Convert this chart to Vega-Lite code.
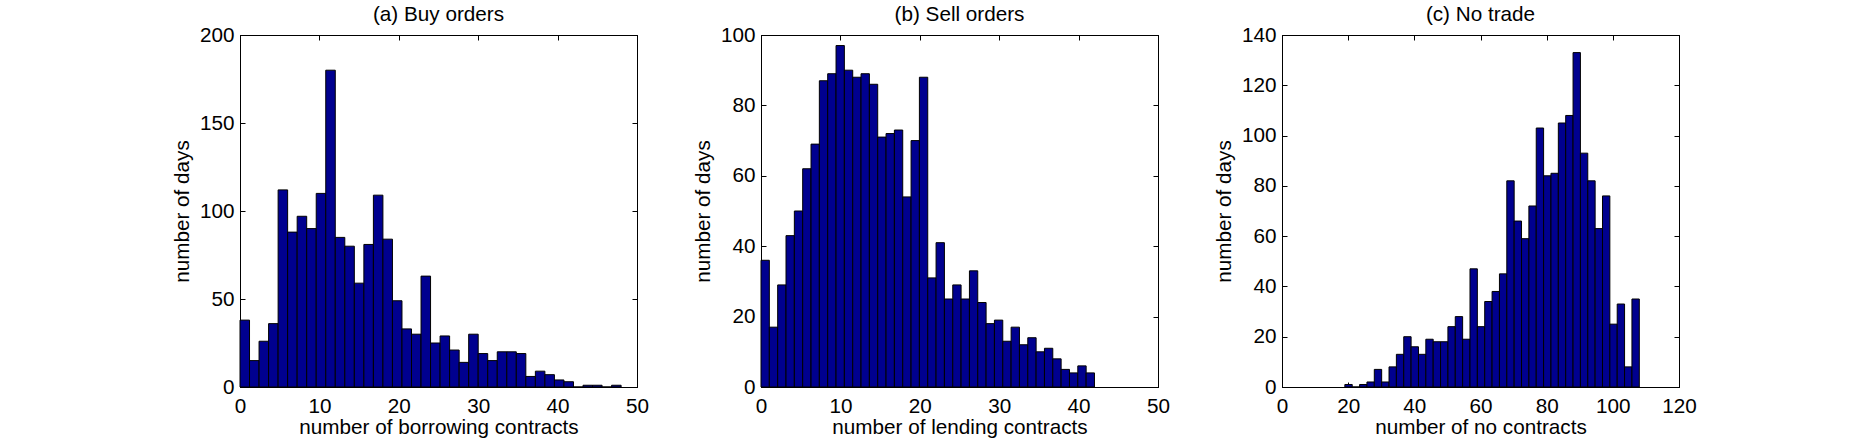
{
  "$schema": "https://vega.github.io/schema/vega-lite/v6.json",
  "padding": {"left": 170, "top": 3, "right": 0, "bottom": 0},
  "background": "white",
  "spacing": 124,
  "bounds": "flush",
  "config": {
    "font": "Liberation Sans",
    "view": {"stroke": "black", "strokeWidth": 1},
    "axis": {
      "grid": false, "domainColor": "black", "domainWidth": 1, "tickColor": "black", "tickWidth": 1, "tickSize": -5,
      "labelColor": "black", "titleColor": "black", "labelFont": "Liberation Sans", "titleFont": "Liberation Sans",
      "labelFontSize": 20.7, "titleFontSize": 20.7, "titleFontWeight": "normal", "labelFlush": false, "labelOverlap": false
    },
    "axisX": {"labelPadding": 14, "titleY": 46, "titleBaseline": "alphabetic"},
    "axisY": {"labelPadding": 11, "titleX": -52, "titleBaseline": "alphabetic"},
    "title": {"fontSize": 20.7, "fontWeight": "normal", "font": "Liberation Sans", "color": "black", "frame": "group", "offset": -2, "baseline": "alphabetic", "anchor": "middle"}
  },
  "datasets": {
    "buy": [
      {"lo": 0, "hi": 1.2, "days": 38}, {"lo": 1.2, "hi": 2.4, "days": 15}, {"lo": 2.4, "hi": 3.6, "days": 26}, {"lo": 3.6, "hi": 4.8, "days": 36},
      {"lo": 4.8, "hi": 6, "days": 112}, {"lo": 6, "hi": 7.2, "days": 88}, {"lo": 7.2, "hi": 8.4, "days": 97}, {"lo": 8.4, "hi": 9.6, "days": 90},
      {"lo": 9.6, "hi": 10.8, "days": 110}, {"lo": 10.8, "hi": 12, "days": 180}, {"lo": 12, "hi": 13.2, "days": 85}, {"lo": 13.2, "hi": 14.4, "days": 80},
      {"lo": 14.4, "hi": 15.6, "days": 59}, {"lo": 15.6, "hi": 16.8, "days": 81}, {"lo": 16.8, "hi": 18, "days": 109}, {"lo": 18, "hi": 19.2, "days": 84},
      {"lo": 19.2, "hi": 20.4, "days": 49}, {"lo": 20.4, "hi": 21.6, "days": 33}, {"lo": 21.6, "hi": 22.8, "days": 30}, {"lo": 22.8, "hi": 24, "days": 63},
      {"lo": 24, "hi": 25.2, "days": 25}, {"lo": 25.2, "hi": 26.4, "days": 29}, {"lo": 26.4, "hi": 27.6, "days": 21}, {"lo": 27.6, "hi": 28.8, "days": 14},
      {"lo": 28.8, "hi": 30, "days": 30}, {"lo": 30, "hi": 31.2, "days": 19}, {"lo": 31.2, "hi": 32.4, "days": 15}, {"lo": 32.4, "hi": 33.6, "days": 20},
      {"lo": 33.6, "hi": 34.8, "days": 20}, {"lo": 34.8, "hi": 36, "days": 19}, {"lo": 36, "hi": 37.2, "days": 6}, {"lo": 37.2, "hi": 38.4, "days": 9},
      {"lo": 38.4, "hi": 39.6, "days": 7}, {"lo": 39.6, "hi": 40.8, "days": 4}, {"lo": 40.8, "hi": 42, "days": 3}, {"lo": 42, "hi": 43.2, "days": 0},
      {"lo": 43.2, "hi": 44.4, "days": 1}, {"lo": 44.4, "hi": 45.6, "days": 1}, {"lo": 45.6, "hi": 46.8, "days": 0}, {"lo": 46.8, "hi": 48, "days": 1}
    ],
    "sell": [
      {"lo": 0, "hi": 1.05, "days": 36}, {"lo": 1.05, "hi": 2.1, "days": 17}, {"lo": 2.1, "hi": 3.15, "days": 29}, {"lo": 3.15, "hi": 4.2, "days": 43},
      {"lo": 4.2, "hi": 5.25, "days": 50}, {"lo": 5.25, "hi": 6.3, "days": 62}, {"lo": 6.3, "hi": 7.35, "days": 69}, {"lo": 7.35, "hi": 8.4, "days": 87},
      {"lo": 8.4, "hi": 9.45, "days": 89}, {"lo": 9.45, "hi": 10.5, "days": 97}, {"lo": 10.5, "hi": 11.55, "days": 90}, {"lo": 11.55, "hi": 12.6, "days": 88},
      {"lo": 12.6, "hi": 13.65, "days": 89}, {"lo": 13.65, "hi": 14.7, "days": 86}, {"lo": 14.7, "hi": 15.75, "days": 71}, {"lo": 15.75, "hi": 16.8, "days": 72},
      {"lo": 16.8, "hi": 17.85, "days": 73}, {"lo": 17.85, "hi": 18.9, "days": 54}, {"lo": 18.9, "hi": 19.95, "days": 70}, {"lo": 19.95, "hi": 21, "days": 88},
      {"lo": 21, "hi": 22.05, "days": 31}, {"lo": 22.05, "hi": 23.1, "days": 41}, {"lo": 23.1, "hi": 24.15, "days": 25}, {"lo": 24.15, "hi": 25.2, "days": 29},
      {"lo": 25.2, "hi": 26.25, "days": 25}, {"lo": 26.25, "hi": 27.3, "days": 33}, {"lo": 27.3, "hi": 28.35, "days": 24}, {"lo": 28.35, "hi": 29.4, "days": 18},
      {"lo": 29.4, "hi": 30.45, "days": 19}, {"lo": 30.45, "hi": 31.5, "days": 13}, {"lo": 31.5, "hi": 32.55, "days": 17}, {"lo": 32.55, "hi": 33.6, "days": 12},
      {"lo": 33.6, "hi": 34.65, "days": 14}, {"lo": 34.65, "hi": 35.7, "days": 10}, {"lo": 35.7, "hi": 36.75, "days": 11}, {"lo": 36.75, "hi": 37.8, "days": 8},
      {"lo": 37.8, "hi": 38.85, "days": 5}, {"lo": 38.85, "hi": 39.9, "days": 4}, {"lo": 39.9, "hi": 40.95, "days": 6}, {"lo": 40.95, "hi": 42, "days": 4}
    ],
    "none": [
      {"lo": 19, "hi": 21.225, "days": 1}, {"lo": 21.225, "hi": 23.45, "days": 0}, {"lo": 23.45, "hi": 25.675, "days": 1}, {"lo": 25.675, "hi": 27.9, "days": 2},
      {"lo": 27.9, "hi": 30.125, "days": 7}, {"lo": 30.125, "hi": 32.35, "days": 2}, {"lo": 32.35, "hi": 34.575, "days": 8}, {"lo": 34.575, "hi": 36.8, "days": 13},
      {"lo": 36.8, "hi": 39.025, "days": 20}, {"lo": 39.025, "hi": 41.25, "days": 16}, {"lo": 41.25, "hi": 43.475, "days": 13}, {"lo": 43.475, "hi": 45.7, "days": 19},
      {"lo": 45.7, "hi": 47.925, "days": 18}, {"lo": 47.925, "hi": 50.15, "days": 18}, {"lo": 50.15, "hi": 52.375, "days": 24}, {"lo": 52.375, "hi": 54.6, "days": 28},
      {"lo": 54.6, "hi": 56.825, "days": 19}, {"lo": 56.825, "hi": 59.05, "days": 47}, {"lo": 59.05, "hi": 61.275, "days": 24}, {"lo": 61.275, "hi": 63.5, "days": 34},
      {"lo": 63.5, "hi": 65.725, "days": 38}, {"lo": 65.725, "hi": 67.95, "days": 45}, {"lo": 67.95, "hi": 70.175, "days": 82}, {"lo": 70.175, "hi": 72.4, "days": 66},
      {"lo": 72.4, "hi": 74.625, "days": 59}, {"lo": 74.625, "hi": 76.85, "days": 72}, {"lo": 76.85, "hi": 79.075, "days": 103}, {"lo": 79.075, "hi": 81.3, "days": 84},
      {"lo": 81.3, "hi": 83.525, "days": 85}, {"lo": 83.525, "hi": 85.75, "days": 105}, {"lo": 85.75, "hi": 87.975, "days": 108}, {"lo": 87.975, "hi": 90.2, "days": 133},
      {"lo": 90.2, "hi": 92.425, "days": 93}, {"lo": 92.425, "hi": 94.65, "days": 82}, {"lo": 94.65, "hi": 96.875, "days": 63}, {"lo": 96.875, "hi": 99.1, "days": 76},
      {"lo": 99.1, "hi": 101.325, "days": 25}, {"lo": 101.325, "hi": 103.55, "days": 33}, {"lo": 103.55, "hi": 105.775, "days": 8}, {"lo": 105.775, "hi": 108, "days": 35}
    ]
  },
  "hconcat": [
    {
      "width": 397, "height": 352,
      "title": {"text": "(a) Buy orders"},
      "data": {"name": "buy"},
      "layer": [
        {
          "mark": {"type": "bar", "fill": "#00008f", "stroke": "black", "strokeWidth": 1},
          "encoding": {
            "x": {"field": "lo", "type": "quantitative", "scale": {"domain": [0, 50], "nice": false}, "axis": {"values": [0, 10, 20, 30, 40, 50], "title": "number of borrowing contracts"}},
            "x2": {"field": "hi"},
            "y": {"field": "days", "type": "quantitative", "scale": {"domain": [0, 200], "nice": false}, "axis": {"values": [0, 50, 100, 150, 200], "title": "number of days"}},
            "y2": {"datum": 0}
          }
        },
        {
          "mark": {"type": "bar", "opacity": 0},
          "encoding": {
            "x": {"field": "lo", "type": "quantitative", "axis": {"orient": "top", "values": [0, 10, 20, 30, 40, 50], "labels": false, "title": null}},
            "x2": {"field": "hi"},
            "y": {"field": "days", "type": "quantitative", "axis": {"orient": "right", "values": [0, 50, 100, 150, 200], "labels": false, "title": null}},
            "y2": {"datum": 0}
          }
        }
      ],
      "resolve": {"axis": {"x": "independent", "y": "independent"}}
    },
    {
      "width": 397, "height": 352,
      "title": {"text": "(b) Sell orders"},
      "data": {"name": "sell"},
      "layer": [
        {
          "mark": {"type": "bar", "fill": "#00008f", "stroke": "black", "strokeWidth": 1},
          "encoding": {
            "x": {"field": "lo", "type": "quantitative", "scale": {"domain": [0, 50], "nice": false}, "axis": {"values": [0, 10, 20, 30, 40, 50], "title": "number of lending contracts"}},
            "x2": {"field": "hi"},
            "y": {"field": "days", "type": "quantitative", "scale": {"domain": [0, 100], "nice": false}, "axis": {"values": [0, 20, 40, 60, 80, 100], "title": "number of days"}},
            "y2": {"datum": 0}
          }
        },
        {
          "mark": {"type": "bar", "opacity": 0},
          "encoding": {
            "x": {"field": "lo", "type": "quantitative", "axis": {"orient": "top", "values": [0, 10, 20, 30, 40, 50], "labels": false, "title": null}},
            "x2": {"field": "hi"},
            "y": {"field": "days", "type": "quantitative", "axis": {"orient": "right", "values": [0, 20, 40, 60, 80, 100], "labels": false, "title": null}},
            "y2": {"datum": 0}
          }
        }
      ],
      "resolve": {"axis": {"x": "independent", "y": "independent"}}
    },
    {
      "width": 397, "height": 352,
      "title": {"text": "(c) No trade"},
      "data": {"name": "none"},
      "layer": [
        {
          "mark": {"type": "bar", "fill": "#00008f", "stroke": "black", "strokeWidth": 1},
          "encoding": {
            "x": {"field": "lo", "type": "quantitative", "scale": {"domain": [0, 120], "nice": false}, "axis": {"values": [0, 20, 40, 60, 80, 100, 120], "title": "number of no contracts"}},
            "x2": {"field": "hi"},
            "y": {"field": "days", "type": "quantitative", "scale": {"domain": [0, 140], "nice": false}, "axis": {"values": [0, 20, 40, 60, 80, 100, 120, 140], "title": "number of days"}},
            "y2": {"datum": 0}
          }
        },
        {
          "mark": {"type": "bar", "opacity": 0},
          "encoding": {
            "x": {"field": "lo", "type": "quantitative", "axis": {"orient": "top", "values": [0, 20, 40, 60, 80, 100, 120], "labels": false, "title": null}},
            "x2": {"field": "hi"},
            "y": {"field": "days", "type": "quantitative", "axis": {"orient": "right", "values": [0, 20, 40, 60, 80, 100, 120, 140], "labels": false, "title": null}},
            "y2": {"datum": 0}
          }
        }
      ],
      "resolve": {"axis": {"x": "independent", "y": "independent"}}
    }
  ]
}
